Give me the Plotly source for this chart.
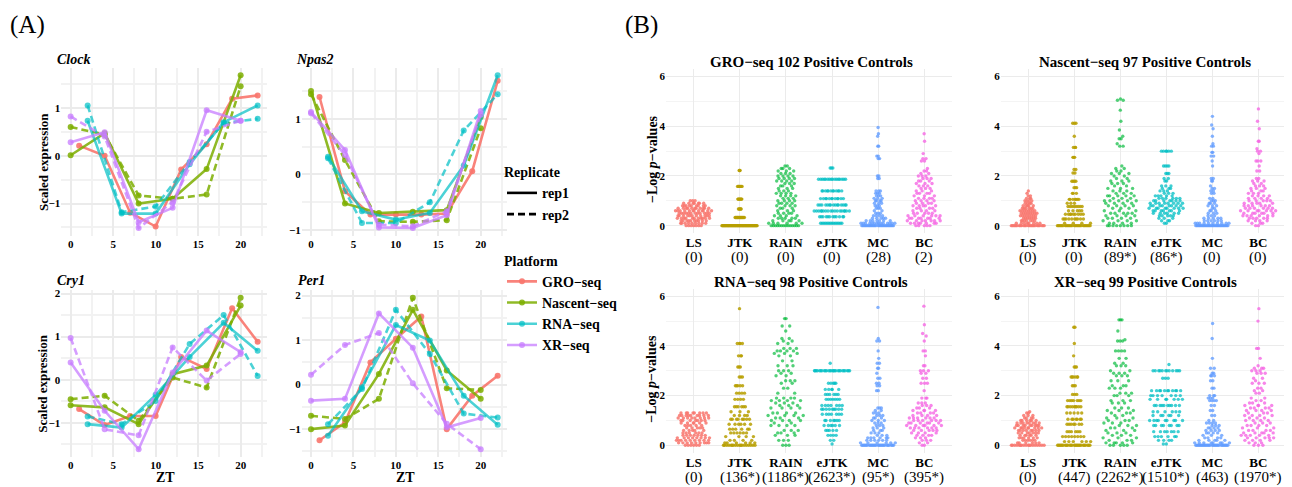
import numpy as np
import plotly.graph_objects as go

W, H = 1292, 487
OX, OY = 8, 8  # page body margin offset of the rendered figure
SERIF = "Liberation Serif"

# ---------------- Panel A data (scaled expression vs ZT) ----------------
PLATFORMS = ["GRO-seq", "Nascent-seq", "RNA-seq", "XR-seq"]
PLATFORM_LABELS = ["GRO−seq", "Nascent−seq", "RNA−seq", "XR−seq"]
PLATFORM_COLORS = ["rgba(248,118,109,0.9)", "rgba(124,174,0,0.85)", "rgba(0,191,196,0.7)", "rgba(199,124,255,0.75)"]
ZT = {
    "GRO-seq": [1, 4, 7, 10, 13, 16, 19, 22],
    "Nascent-seq": [0, 4, 8, 12, 16, 20],
    "RNA-seq": [2, 6, 10, 14, 18, 22],
    "XR-seq": [0, 4, 8, 12, 16, 20],
}
GENES = ["Clock", "Npas2", "Cry1", "Per1"]

CLOCK = {
    ("GRO-seq", "rep1"): [0.21, 0.0, -1.19, -1.48, -0.29, 0.24, 1.19, 1.26],
    ("Nascent-seq", "rep1"): [0.01, 0.47, -1.0, -0.9, -0.28, 1.68],
    ("Nascent-seq", "rep2"): [0.6, 0.44, -0.83, -0.9, -0.81, 1.45],
    ("RNA-seq", "rep1"): [0.73, -1.21, -1.21, -0.18, 0.7, 1.05],
    ("RNA-seq", "rep2"): [1.05, -1.18, -1.06, -0.13, 0.68, 0.77],
    ("XR-seq", "rep1"): [0.28, 0.49, -1.39, -1.09, 0.95, 0.73],
    ("XR-seq", "rep2"): [0.82, 0.4, -1.51, -0.97, 0.5, 0.73],
}
NPAS2 = {
    ("GRO-seq", "rep1"): [1.39, -0.3, -0.72, -0.72, -0.72, -0.7, 0.06, 1.68],
    ("Nascent-seq", "rep1"): [1.5, -0.52, -0.69, -0.67, -0.64, 1.03],
    ("Nascent-seq", "rep2"): [1.44, 0.26, -0.84, -0.85, -0.82, 0.83],
    ("RNA-seq", "rep1"): [0.32, -0.66, -0.81, -0.69, 0.16, 1.78],
    ("RNA-seq", "rep2"): [0.29, -0.87, -0.87, -0.5, 0.79, 1.44],
    ("XR-seq", "rep1"): [1.12, 0.44, -0.95, -0.96, -0.73, 1.14],
    ("XR-seq", "rep2"): [1.1, 0.35, -0.9, -0.93, -0.66, 1.07],
}
CRY1 = {
    ("GRO-seq", "rep1"): [-0.68, -1.05, -0.84, -0.84, 0.53, 0.25, 1.66, 0.88],
    ("Nascent-seq", "rep1"): [-0.59, -0.64, -1.03, 0.13, 0.33, 1.72],
    ("Nascent-seq", "rep2"): [-0.45, -0.37, -0.95, 0.05, -0.18, 1.9],
    ("RNA-seq", "rep1"): [-1.03, -1.11, -0.35, 0.53, 1.32, 0.67],
    ("RNA-seq", "rep2"): [-0.85, -1.03, -0.49, 0.83, 1.5, 0.09],
    ("XR-seq", "rep1"): [0.4, -0.72, -1.61, 0.17, 1.14, 0.64],
    ("XR-seq", "rep2"): [0.97, -1.15, -1.29, 0.75, -0.02, 0.6],
}
PER1 = {
    ("GRO-seq", "rep1"): [-1.25, -0.85, 0.5, 1.03, 1.53, -1.0, -0.25, 0.2],
    ("Nascent-seq", "rep1"): [-1.0, -0.92, 0.24, 1.68, 0.32, -0.32],
    ("Nascent-seq", "rep2"): [-0.7, -0.77, -0.32, 1.95, -0.08, -0.12],
    ("RNA-seq", "rep1"): [-1.15, -0.06, 1.34, 0.99, -0.25, -0.9],
    ("RNA-seq", "rep2"): [-0.89, -0.1, 1.68, 0.69, -0.65, -0.74],
    ("XR-seq", "rep1"): [-0.36, -0.32, 1.6, 0.83, -0.96, -0.75],
    ("XR-seq", "rep2"): [0.22, 0.89, 1.16, 0.03, -0.88, -1.45],
}
GENE_DATA = [CLOCK, NPAS2, CRY1, PER1]

# ---------------- Panel B data (-log p-values, value level -> count) ----------------
METHODS = ["LS", "JTK", "RAIN", "eJTK", "MC", "BC"]
METHOD_COLORS = ["rgba(248,118,109,0.85)", "rgba(183,159,0,0.85)", "rgba(0,186,56,0.68)",
                 "rgba(0,191,196,0.75)", "rgba(97,156,255,0.78)", "rgba(245,100,227,0.78)"]
B_TITLES = ["GRO−seq 102 Positive Controls", "Nascent−seq 97 Positive Controls",
            "RNA−seq 98 Positive Controls", "XR−seq 99 Positive Controls"]
GRO_COUNTS = ["(0)", "(0)", "(0)", "(0)", "(28)", "(2)"]
NASCENT_COUNTS = ["(0)", "(0)", "(89*)", "(86*)", "(0)", "(0)"]
RNA_COUNTS = ["(0)", "(136*)", "(1186*)", "(2623*)", "(95*)", "(395*)"]
XR_COUNTS = ["(0)", "(447)", "(2262*)", "(1510*)", "(463)", "(1970*)"]

GRO_LS = [(0.0, 7), (0.1, 9), (0.2, 10), (0.3, 11), (0.4, 11), (0.5, 12), (0.6, 12), (0.7, 11), (0.8, 9), (0.9, 7), (1.0, 3)]
GRO_JTK = [(0.0, 62), (0.33, 16), (0.67, 5), (1.07, 8), (1.58, 8), (2.22, 3)]
GRO_RAIN = [(0.0, 14), (0.1, 6), (0.2, 5), (0.3, 5), (0.4, 4), (0.5, 4), (0.6, 3), (0.7, 3), (0.8, 4), (0.9, 4), (1.0, 4),
            (1.1, 3), (1.2, 4), (1.3, 4), (1.4, 3), (1.5, 3), (1.6, 3), (1.7, 3), (1.8, 4), (1.9, 4), (2.0, 4), (2.1, 3),
            (2.2, 3), (2.3, 3), (2.4, 2)]
GRO_EJTK = [(0.1, 14), (0.36, 12), (0.59, 18), (0.83, 15), (1.09, 12), (1.4, 12), (1.87, 16), (2.32, 3)]
GRO_MC = [(0.0, 29), (0.1, 14), (0.2, 7), (0.3, 5), (0.4, 4), (0.5, 3), (0.6, 2), (0.7, 3), (0.8, 3), (0.9, 3), (1.0, 4),
          (1.1, 3), (1.2, 3), (1.3, 3), (1.4, 3), (1.9, 2), (2.0, 2), (2.7, 2), (2.8, 2), (3.2, 2), (3.6, 1), (3.7, 1), (3.95, 1)]
GRO_BC = [(0.0, 5), (0.1, 7), (0.2, 7), (0.3, 7), (0.4, 6), (0.5, 5), (0.6, 4), (0.7, 4), (0.8, 5), (0.9, 4), (1.0, 4),
          (1.1, 4), (1.2, 3), (1.3, 4), (1.4, 3), (1.5, 3), (1.6, 3), (1.7, 3), (1.8, 3), (1.9, 3), (2.0, 3), (2.1, 2),
          (2.2, 2), (2.3, 1), (2.6, 2), (2.7, 2), (2.9, 1), (3.4, 1), (3.7, 1)]

NASCENT_LS = [(0.0, 25), (0.1, 8), (0.2, 7), (0.3, 7), (0.4, 8), (0.5, 8), (0.6, 8), (0.7, 6), (0.8, 5), (0.9, 4),
              (1.0, 4), (1.1, 3), (1.2, 2), (1.3, 1), (1.4, 1)]
NASCENT_JTK = [(0.0, 27), (0.1, 4), (0.27, 10), (0.46, 9), (0.6, 5), (0.77, 8), (0.9, 3), (1.06, 7), (1.3, 3), (1.53, 3),
               (1.79, 4), (2.12, 2), (2.26, 2), (2.75, 3), (3.15, 3), (3.6, 1), (4.12, 3)]
NASCENT_RAIN = [(0.0, 8), (0.1, 4), (0.2, 4), (0.3, 4), (0.4, 4), (0.5, 5), (0.6, 3), (0.7, 3), (0.8, 4), (0.9, 4), (1.0, 5),
                (1.1, 3), (1.2, 5), (1.3, 3), (1.4, 3), (1.5, 3), (1.6, 2), (1.7, 3), (1.8, 3), (1.9, 2), (2.0, 2), (2.1, 3),
                (2.2, 2), (2.3, 2), (2.4, 1), (3.2, 2), (3.3, 1), (3.5, 2), (3.6, 1), (3.85, 1), (4.2, 1), (4.65, 1),
                (5.05, 2), (5.1, 1)]
NASCENT_EJTK = [(0.1, 2), (0.2, 3), (0.3, 3), (0.4, 5), (0.5, 6), (0.6, 7), (0.7, 8), (0.8, 8), (0.9, 8), (1.0, 7),
                (1.1, 6), (1.2, 5), (1.3, 3), (1.4, 3), (1.5, 3), (1.6, 3), (1.8, 2), (1.9, 2), (2.1, 3), (2.4, 4), (3.0, 6)]
NASCENT_MC = [(0.0, 30), (0.1, 10), (0.2, 6), (0.3, 5), (0.4, 3), (0.5, 3), (0.6, 3), (0.7, 2), (0.8, 3), (0.9, 3),
              (1.0, 3), (1.1, 2), (1.3, 2), (1.4, 2), (1.5, 2), (1.6, 1), (1.8, 2), (1.9, 2), (2.4, 1), (2.6, 1),
              (2.8, 2), (2.95, 2), (3.2, 2), (3.3, 1), (3.6, 1), (3.9, 1), (4.05, 1), (4.4, 1)]
NASCENT_BC = [(0.0, 2), (0.1, 3), (0.2, 4), (0.3, 5), (0.4, 6), (0.5, 6), (0.6, 7), (0.7, 6), (0.8, 6), (0.9, 5),
              (1.0, 5), (1.1, 4), (1.2, 4), (1.3, 3), (1.4, 3), (1.5, 3), (1.6, 3), (1.7, 2), (1.8, 3), (1.9, 2),
              (2.2, 2), (2.4, 1), (2.6, 3), (2.9, 1), (3.0, 2), (3.1, 1), (3.4, 2), (3.9, 1), (4.2, 1), (4.7, 1)]

RNA_LS = [(0.0, 6), (0.1, 9), (0.2, 9), (0.3, 8), (0.4, 7), (0.5, 6), (0.6, 5), (0.7, 5), (0.8, 5), (0.9, 6),
          (1.0, 7), (1.1, 8), (1.2, 9), (1.3, 8)]
RNA_JTK = [(0.0, 18), (0.1, 6), (0.2, 4), (0.35, 4), (0.5, 6), (0.65, 6), (0.85, 6), (1.05, 8), (1.2, 4), (1.35, 3),
           (1.55, 6), (1.85, 4), (2.1, 4), (2.4, 5), (2.75, 3), (3.15, 3), (3.6, 3), (4.1, 4), (5.5, 1)]
RNA_RAIN = [(0.0, 3), (0.2, 3), (0.4, 3), (0.5, 3), (0.6, 3), (0.8, 4), (0.9, 2), (1.0, 4), (1.1, 3), (1.2, 4),
            (1.3, 4), (1.5, 4), (1.6, 3), (1.7, 3), (1.8, 4), (1.9, 4), (2.1, 2), (2.3, 2), (2.5, 2), (2.6, 3),
            (2.8, 2), (2.9, 2), (3.0, 3), (3.2, 3), (3.4, 2), (3.6, 2), (3.7, 3), (3.8, 4), (3.9, 3), (4.1, 2),
            (4.2, 2), (4.3, 2), (4.6, 1), (4.8, 2), (5.1, 2)]
RNA_EJTK = [(0.05, 1), (0.2, 2), (0.4, 4), (0.6, 5), (0.8, 6), (1.0, 7), (1.25, 7), (1.45, 9), (1.6, 7), (1.85, 7),
            (2.05, 6), (2.25, 5), (2.5, 5), (3.0, 26), (3.3, 1)]
RNA_MC = [(0.0, 26), (0.1, 6), (0.2, 6), (0.3, 6), (0.4, 3), (0.5, 3), (0.6, 3), (0.7, 3), (0.8, 3), (0.9, 3),
          (1.0, 3), (1.1, 3), (1.2, 3), (1.3, 3), (1.4, 2), (1.5, 3), (2.2, 2), (2.4, 2), (2.5, 2), (2.7, 2),
          (2.9, 1), (3.1, 2), (3.3, 2), (3.5, 1), (3.8, 1), (4.2, 2), (4.3, 1), (5.55, 1)]
RNA_BC = [(0.0, 2), (0.1, 2), (0.2, 3), (0.3, 3), (0.4, 4), (0.5, 4), (0.6, 5), (0.7, 6), (0.8, 6), (0.9, 6),
          (1.0, 6), (1.1, 6), (1.2, 4), (1.3, 4), (1.4, 4), (1.5, 3), (1.6, 3), (1.7, 3), (1.9, 3), (2.2, 1),
          (2.5, 3), (2.7, 2), (2.9, 2), (3.0, 3), (3.2, 2), (3.6, 1), (3.8, 2), (4.2, 1), (4.4, 1), (4.5, 1),
          (4.85, 1), (5.6, 1)]

XR_LS = [(0.0, 18), (0.1, 6), (0.2, 6), (0.3, 6), (0.4, 6), (0.5, 7), (0.6, 8), (0.7, 9), (0.8, 9), (0.9, 8),
         (1.0, 6), (1.1, 4), (1.2, 3), (1.3, 2), (1.35, 1)]
XR_JTK = [(0.0, 25), (0.15, 6), (0.35, 8), (0.55, 6), (0.85, 7), (1.05, 7), (1.3, 5), (1.55, 9), (1.8, 7), (2.05, 3),
          (2.4, 3), (2.75, 6), (3.15, 3), (3.6, 1), (4.1, 1), (4.75, 2)]
XR_RAIN = [(0.0, 5), (0.1, 5), (0.2, 3), (0.3, 3), (0.4, 3), (0.5, 3), (0.6, 3), (0.7, 3), (0.8, 3), (0.9, 3),
           (1.0, 3), (1.1, 3), (1.2, 2), (1.3, 3), (1.4, 3), (1.5, 3), (1.7, 3), (1.8, 3), (2.0, 3), (2.1, 3),
           (2.3, 3), (2.4, 3), (2.6, 3), (2.8, 3), (2.9, 3), (3.0, 2), (3.2, 3), (3.3, 2), (3.5, 2), (3.8, 4),
           (4.2, 3), (4.25, 1), (4.6, 1), (5.05, 3)]
XR_EJTK = [(0.05, 2), (0.2, 4), (0.35, 6), (0.55, 7), (0.8, 8), (1.0, 9), (1.2, 6), (1.35, 6), (1.6, 10), (1.85, 7),
           (2.0, 7), (2.2, 11), (2.7, 3), (3.0, 12), (3.25, 1)]
XR_MC = [(0.0, 28), (0.1, 8), (0.2, 5), (0.3, 4), (0.4, 3), (0.5, 4), (0.6, 4), (0.7, 4), (0.8, 3), (0.9, 4),
         (1.0, 2), (1.2, 2), (1.4, 2), (1.6, 2), (1.8, 4), (1.9, 3), (2.0, 3), (2.3, 2), (2.6, 2), (2.8, 3),
         (2.9, 2), (3.1, 2), (3.5, 1), (4.3, 1), (4.9, 1)]
XR_BC = [(0.0, 3), (0.1, 3), (0.2, 4), (0.3, 5), (0.4, 5), (0.5, 5), (0.6, 4), (0.7, 3), (0.8, 4), (0.9, 3),
         (1.0, 4), (1.1, 3), (1.2, 4), (1.3, 3), (1.4, 4), (1.5, 4), (1.6, 4), (1.7, 3), (1.8, 2), (1.9, 2),
         (2.1, 2), (2.2, 2), (2.3, 2), (2.5, 3), (2.6, 1), (2.7, 2), (2.9, 3), (3.0, 3), (3.1, 3), (3.2, 1),
         (3.5, 1), (3.9, 2), (5.0, 1), (5.5, 1)]

B_PANELS = [
    [GRO_LS, GRO_JTK, GRO_RAIN, GRO_EJTK, GRO_MC, GRO_BC],
    [NASCENT_LS, NASCENT_JTK, NASCENT_RAIN, NASCENT_EJTK, NASCENT_MC, NASCENT_BC],
    [RNA_LS, RNA_JTK, RNA_RAIN, RNA_EJTK, RNA_MC, RNA_BC],
    [XR_LS, XR_JTK, XR_RAIN, XR_EJTK, XR_MC, XR_BC],
]
B_COUNTS = [GRO_COUNTS, NASCENT_COUNTS, RNA_COUNTS, XR_COUNTS]


# ---------------- helpers ----------------
def fx(px):
    return (px - OX) / W


def fy(py):
    return 1 - (py - OY) / H


def px_x(a, b):
    return [fx(a), fx(b)]


def px_y(top, bottom):
    return [fy(bottom), fy(top)]


def vdc(n):
    out = []
    for i in range(1, n + 1):
        x, denom, v = i, 1.0, 0.0
        while x:
            denom *= 2
            v += (x % 2) / denom
            x //= 2
        out.append(v)
    return np.array(out)


def bw_nrd0(y):
    n = len(y)
    hi = np.std(y, ddof=1)
    q75, q25 = np.percentile(y, [75, 25])
    lo = min(hi, (q75 - q25) / 1.34)
    if lo == 0:
        lo = hi if hi > 0 else 1.0
    return 0.9 * lo * n ** (-0.2)


def quasirandom_offsets(y, width=0.4, adjust=0.5):
    y = np.asarray(y, float)
    bw = bw_nrd0(y) * adjust
    grid = np.linspace(y.min() - 3 * bw, y.max() + 3 * bw, 1024)
    dens_grid = np.exp(-0.5 * ((grid[:, None] - y[None, :]) / bw) ** 2).sum(1)
    dens_pts = np.exp(-0.5 * ((y[:, None] - y[None, :]) / bw) ** 2).sum(1)
    dens_pts = dens_pts / dens_grid.max()
    order = np.argsort(y, kind="stable")
    rank = np.empty(len(y), int)
    rank[order] = np.arange(len(y))
    q = vdc(len(y))[rank]
    return (q - 0.5) * 2 * dens_pts * width


# ---------------- layout geometry (pixels in the photographed page) ----------------
A_X = [(61.3, 267.0), (301.7, 507.0), (61.3, 267.0), (301.7, 507.0)]
A_Y = [(65, 234), (65, 234), (289, 456.5), (289, 456.5)]
B_X = [(666.0, 952.0), (1000.7, 1286.0), (666.0, 952.0), (1000.7, 1286.0)]
B_Y = [(66.5, 231.5), (66.5, 231.5), (287.5, 452.5), (287.5, 452.5)]

fig = go.Figure()
layout = dict(
    width=W, height=H, margin=dict(l=0, r=0, t=0, b=0),
    paper_bgcolor="white", plot_bgcolor="white",
    font=dict(family=SERIF, color="black"),
)
annotations = []


def ann(text, x, y, size, weight="normal", style="normal", xanchor="left", angle=0, color="black"):
    annotations.append(dict(text=text, x=fx(x), y=fy(y), xref="paper", yref="paper",
                            xanchor=xanchor, yanchor="middle", showarrow=False, textangle=angle,
                            font=dict(family=SERIF, size=size, weight=weight, style=style, color=color)))


tickfont = dict(family=SERIF, size=11, weight="bold", color="black")

# ---------------- Panel A traces ----------------
for g, (gene, data) in enumerate(zip(GENES, GENE_DATA)):
    ax = g + 1
    xa, ya = ("x" if ax == 1 else f"x{ax}"), ("y" if ax == 1 else f"y{ax}")
    allv = []
    for p, plat in enumerate(PLATFORMS):
        for rep in ["rep1", "rep2"]:
            if (plat, rep) not in data:
                continue
            vals = data[(plat, rep)]
            allv += vals
            fig.add_trace(go.Scatter(
                x=ZT[plat], y=vals, mode="lines+markers", xaxis=xa, yaxis=ya, showlegend=False,
                line=dict(color=PLATFORM_COLORS[p], width=2.6, dash="solid" if rep == "rep1" else "7px,4px"),
                marker=dict(color=PLATFORM_COLORS[p], size=6), hoverinfo="skip"))
    lo, hi = min(allv), max(allv)
    span = hi - lo
    layout[f"xaxis{ax}"] = dict(
        domain=px_x(*A_X[g]), anchor=ya, range=[-1.1, 23.1], tick0=0, dtick=5,
        showgrid=True, gridcolor="#EBEBEB", gridwidth=2, zeroline=False, showline=False, ticks="",
        tickfont=tickfont, minor=dict(dtick=2.5, showgrid=True, gridcolor="#F2F2F2", gridwidth=1.5))
    layout[f"yaxis{ax}"] = dict(
        domain=px_y(*A_Y[g]), anchor=xa, range=[lo - 0.05 * span, hi + 0.05 * span], tick0=0, dtick=1,
        showgrid=True, gridcolor="#EBEBEB", gridwidth=2, zeroline=False, showline=False, ticks="",
        tickfont=tickfont, minor=dict(dtick=0.5, showgrid=True, gridcolor="#F2F2F2", gridwidth=1.5))

# gene titles and axis titles
ann("Clock", 55, 57, 14, "bold", "italic")
ann("Npas2", 294, 57, 14, "bold", "italic")
ann("Cry1", 55, 279, 14, "bold", "italic")
ann("Per1", 296, 279, 14, "bold", "italic")
ann("Scaled expression", 43, 160, 13, "bold", angle=-90, xanchor="center")
ann("Scaled expression", 43, 383, 13, "bold", angle=-90, xanchor="center")
ann("ZT", 165, 477, 14, "bold", xanchor="center")
ann("ZT", 405, 477, 14, "bold", xanchor="center")
ann("(A)", 8, 22, 25)
ann("(B)", 623, 22, 25)

# legends (dummy entries)
for rep, dash in [("rep1", "solid"), ("rep2", "7px,4px")]:
    fig.add_trace(go.Scatter(x=[None], y=[None], mode="lines", name=rep, legend="legend",
                             line=dict(color="black", width=2.6, dash=dash)))
for p, lab in enumerate(PLATFORM_LABELS):
    fig.add_trace(go.Scatter(x=[None], y=[None], mode="lines+markers", name=lab, legend="legend2",
                             line=dict(color=PLATFORM_COLORS[p], width=2.6),
                             marker=dict(color=PLATFORM_COLORS[p], size=6)))
legfont = dict(family=SERIF, size=14, weight="bold", color="black")
layout["legend"] = dict(x=fx(502), y=fy(157), xanchor="left", yanchor="top", bgcolor="rgba(0,0,0,0)",
                        title=dict(text="Replicate", font=legfont), font=legfont, itemwidth=30, tracegroupgap=0)
layout["legend2"] = dict(x=fx(502), y=fy(246), xanchor="left", yanchor="top", bgcolor="rgba(0,0,0,0)",
                         title=dict(text="Platform", font=legfont), font=legfont, itemwidth=30, tracegroupgap=0)

# ---------------- Panel B traces ----------------
for k in range(4):
    ax = k + 5
    xa, ya = f"x{ax}", f"y{ax}"
    for m, (method, levels) in enumerate(zip(METHODS, B_PANELS[k])):
        vals = np.repeat([v for v, c in levels], [c for v, c in levels])
        offs = quasirandom_offsets(vals)
        fig.add_trace(go.Scatter(
            x=(m + 1) + offs, y=vals, mode="markers", xaxis=xa, yaxis=ya, showlegend=False,
            marker=dict(color=METHOD_COLORS[m], size=3.4, line=dict(width=0)), hoverinfo="skip"))
    layout[f"xaxis{ax}"] = dict(
        domain=px_x(*B_X[k]), anchor=ya, range=[0.4, 6.6], tickvals=list(range(1, 7)), ticktext=METHODS,
        showgrid=True, gridcolor="#EBEBEB", gridwidth=1, zeroline=False, showline=False, ticks="",
        tickfont=dict(family=SERIF, size=13, weight="bold", color="black"))
    layout[f"yaxis{ax}"] = dict(
        domain=px_y(*B_Y[k]), anchor=xa, range=[-0.3, 6.3], tickvals=[0, 2, 4, 6],
        showgrid=True, gridcolor="#EBEBEB", gridwidth=1, zeroline=False, showline=False, ticks="",
        tickfont=tickfont, minor=dict(tickvals=[1, 3, 5], showgrid=True, gridcolor="#F4F4F4", gridwidth=1))
    cx = (B_X[k][0] + B_X[k][1]) / 2
    ty = 59 if k < 2 else 281
    ann(B_TITLES[k], cx + 2, ty, 15, "bold", xanchor="center")
    cy = 256 if k < 2 else 477
    for m, lab in enumerate(B_COUNTS[k]):
        annotations.append(dict(text=lab, x=m + 1, y=fy(cy), xref=xa, yref="paper", xanchor="center",
                                yanchor="middle", showarrow=False,
                                font=dict(family=SERIF, size=15, color="black")))

ann("−Log <i>p</i>−values", 652, 157, 14, "bold", angle=-90, xanchor="center")
ann("−Log <i>p</i>−values", 652, 378, 14, "bold", angle=-90, xanchor="center")

layout["annotations"] = annotations
fig.update_layout(**layout)
fig.write_html("out.html")
